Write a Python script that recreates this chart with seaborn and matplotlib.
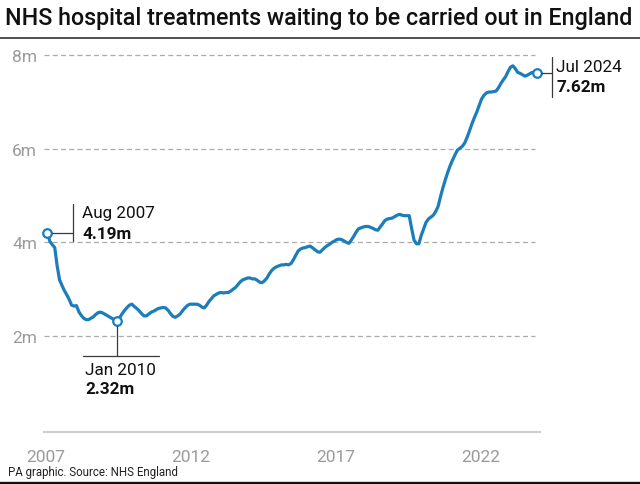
import numpy as np
import pandas as pd
import matplotlib
matplotlib.use("Agg")
import matplotlib.pyplot as plt
from matplotlib.lines import Line2D
from matplotlib.transforms import ScaledTranslation, IdentityTransform
import seaborn as sns

# ---------------- data ----------------
title = "NHS hospital treatments waiting to be carried out in England"
source = "PA graphic. Source: NHS England"
start_month = "2007-08"
waiting_millions = [
    4.19, 4.02, 3.95, 3.89, 3.50, 3.20, 3.08, 2.97, 2.88, 2.78, 2.66, 2.64,  # Aug07-Jul08
    2.65, 2.52, 2.44, 2.38, 2.35, 2.35, 2.38, 2.41, 2.46, 2.50, 2.51, 2.49,  # Aug08-Jul09
    2.46, 2.43, 2.40, 2.37, 2.34, 2.32, 2.40, 2.48, 2.55, 2.61, 2.66, 2.68,  # Aug09-Jul10
    2.63, 2.59, 2.54, 2.48, 2.43, 2.43, 2.47, 2.51, 2.53, 2.56, 2.59, 2.60,  # Aug10-Jul11
    2.61, 2.60, 2.55, 2.48, 2.42, 2.40, 2.43, 2.47, 2.54, 2.60, 2.65, 2.68,  # Aug11-Jul12
    2.68, 2.68, 2.68, 2.66, 2.62, 2.60, 2.66, 2.74, 2.80, 2.86, 2.89, 2.92,  # Aug12-Jul13
    2.93, 2.92, 2.93, 2.93, 2.96, 3.00, 3.04, 3.10, 3.16, 3.20, 3.22, 3.24,  # Aug13-Jul14
    3.24, 3.22, 3.22, 3.19, 3.15, 3.14, 3.18, 3.24, 3.33, 3.40, 3.45, 3.48,  # Aug14-Jul15
    3.50, 3.52, 3.52, 3.53, 3.52, 3.55, 3.63, 3.73, 3.82, 3.86, 3.88, 3.89,  # Aug15-Jul16
    3.91, 3.92, 3.88, 3.84, 3.80, 3.79, 3.84, 3.89, 3.93, 3.96, 4.00, 4.03,  # Aug16-Jul17
    4.06, 4.07, 4.06, 4.03, 4.00, 3.98, 4.05, 4.13, 4.22, 4.29, 4.31, 4.33,  # Aug17-Jul18
    4.34, 4.34, 4.32, 4.30, 4.27, 4.26, 4.33, 4.40, 4.47, 4.50, 4.51, 4.52,  # Aug18-Jul19
    4.55, 4.58, 4.60, 4.58, 4.57, 4.57, 4.57, 4.30, 4.05, 3.97, 3.97, 4.15,  # Aug19-Jul20
    4.29, 4.43, 4.50, 4.54, 4.58, 4.66, 4.77, 4.98, 5.17, 5.34, 5.50, 5.64,  # Aug20-Jul21
    5.76, 5.87, 5.97, 6.01, 6.05, 6.12, 6.24, 6.38, 6.53, 6.66, 6.78, 6.92,  # Aug21-Jul22
    7.06, 7.14, 7.19, 7.21, 7.21, 7.22, 7.23, 7.30, 7.39, 7.47, 7.54, 7.65,  # Aug22-Jul23
    7.74, 7.77, 7.71, 7.63, 7.61, 7.58, 7.55, 7.57, 7.60, 7.63, 7.62, 7.62,  # Aug23-Jul24
]
tick_years = [2007, 2012, 2017, 2022]
y_ticks = [2, 4, 6, 8]
y_labels = ["2m", "4m", "6m", "8m"]
callout_dates = ["2007-08", "2010-01", "2024-07"]
callout_labels = ["Aug 2007", "Jan 2010", "Jul 2024"]
callout_values = ["4.19m", "2.32m", "7.62m"]

# ---------------- style ----------------
BLUE = "#1c7dbb"
GREY_TXT = "#9a9a9a"
sns.set_theme(style="white")
plt.rcParams["font.family"] = ["Roboto", "DejaVu Sans"]

dates = pd.date_range(start_month, periods=len(waiting_millions), freq="MS")
df = pd.DataFrame({"t": dates.year + (dates.month - 1) / 12.0,
                   "v": waiting_millions, "date": dates})

W, H = 640, 485
fig = plt.figure(figsize=(W / 100, H / 100), dpi=100)
ax = fig.add_axes([44 / W, 1 - 433 / H, 496 / W, 388 / H])

sns.lineplot(data=df, x="t", y="v", ax=ax, color=BLUE, linewidth=2.3,
             solid_capstyle="round", solid_joinstyle="round", zorder=4)

ax.set_xlim(2007.4624, 2024.6037)
ax.set_ylim(-0.049, 8.236)
ax.set_xlabel("")
ax.set_ylabel("")

ax.set_xticks([y + 0.54 for y in tick_years])
ax.set_xticklabels([str(y) for y in tick_years])
ax.set_yticks(y_ticks)
ax.set_yticklabels(y_labels)
ax.tick_params(axis="both", length=0, labelcolor=GREY_TXT, labelsize=12.5)
ax.tick_params(axis="x", pad=12)
ax.tick_params(axis="y", pad=5)
for lab in ax.get_xticklabels() + ax.get_yticklabels():
    lab.set_fontweight("normal")

for s in ["top", "right", "left"]:
    ax.spines[s].set_visible(False)
ax.spines["bottom"].set_color("#cfcfcf")
ax.spines["bottom"].set_linewidth(1.5)

for y in y_ticks:
    ax.axhline(y, xmin=0, xmax=(535 - 44) / 496, color="#ababab",
               linewidth=0.9, linestyle=(0, (4, 2.6)), zorder=1)

# ---------------- callouts ----------------
def disp(t, v, dx, dy):
    p = ax.transData.transform((t, v))
    return p[0] + dx, p[1] + dy

def seg(t, v, d1, d2):
    a = disp(t, v, *d1)
    b = disp(t, v, *d2)
    fig.add_artist(Line2D([a[0], b[0]], [a[1], b[1]], transform=IdentityTransform(),
                          color="#3a3a3a", linewidth=0.9))

def txt(t, v, dx, dy, s, bold=False):
    ax.text(t, v, s, transform=ax.transData + ScaledTranslation(dx / 100, dy / 100, fig.dpi_scale_trans),
            ha="left", va="center", fontsize=12.3, color="#111111",
            fontweight="bold" if bold else "normal")

cal = df.set_index(df["date"].dt.strftime("%Y-%m"))
pts = [(cal.loc[d, "t"], cal.loc[d, "v"]) for d in callout_dates]

# Aug 2007
t, v = pts[0]
seg(t, v, (4.5, 0), (25.5, 0))
seg(t, v, (25.5, 29), (25.5, -8))
txt(t, v, 34.5, 21, callout_labels[0])
txt(t, v, 34.5, 0, callout_values[0], bold=True)
# Jan 2010
t, v = pts[1]
seg(t, v, (0, -4.5), (0, -34.5))
seg(t, v, (-34, -34.5), (42, -34.5))
txt(t, v, -32, -48.5, callout_labels[1])
txt(t, v, -32, -67.5, callout_values[1], bold=True)
# Jul 2024
t, v = pts[2]
seg(t, v, (4.5, 0), (15, 0))
seg(t, v, (15, 16), (15, -24))
txt(t, v, 19.5, 6, callout_labels[2])
txt(t, v, 19.5, -14, callout_values[2], bold=True)

ax.scatter([p[0] for p in pts], [p[1] for p in pts], s=38, facecolor="white",
           edgecolor=BLUE, linewidth=1.6, zorder=6, clip_on=False)

# ---------------- title / footer ----------------
fig.text(5 / W, 1 - 19 / H, title, fontsize=16.75, fontweight="medium",
         ha="left", va="center", color="#111111")
fig.add_artist(Line2D([0, 1], [1 - 38.5 / H] * 2, transform=fig.transFigure,
                      color="#333333", linewidth=1.2))
fig.text(8 / W, 1 - 473 / H, source, fontsize=8.3, ha="left", va="center",
         color="#222222")
fig.add_artist(Line2D([0, 1], [1 - 483.5 / H] * 2, transform=fig.transFigure,
                      color="#111111", linewidth=2.4))

fig.savefig("out.png", dpi=100)
